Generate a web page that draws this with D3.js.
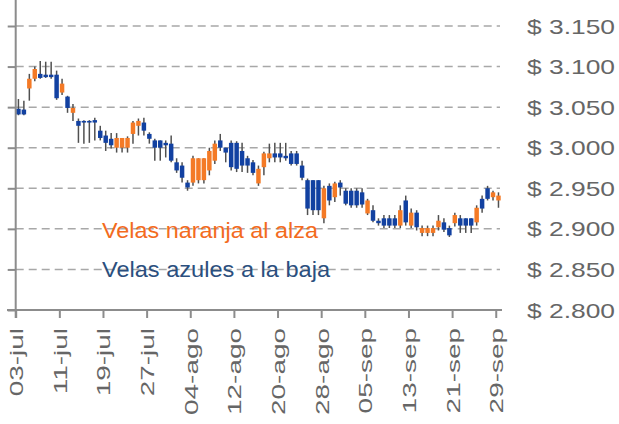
<!DOCTYPE html>
<html>
<head>
<meta charset="utf-8">
<script src="https://cdn.jsdelivr.net/npm/d3@7"></script>
<style>
html,body{margin:0;padding:0;background:#fff;}
svg{display:block;}
text{font-family:"Liberation Sans",Arial,sans-serif;}
</style>
</head>
<body>
<svg id="chart" width="619" height="424"></svg>
<script>
const dates = [
"2017-07-03","2017-07-04","2017-07-05","2017-07-06","2017-07-07","2017-07-08","2017-07-09","2017-07-10","2017-07-11","2017-07-12",
"2017-07-13","2017-07-14","2017-07-15","2017-07-16","2017-07-17","2017-07-18","2017-07-19","2017-07-20","2017-07-21","2017-07-22",
"2017-07-23","2017-07-24","2017-07-25","2017-07-26","2017-07-27","2017-07-28","2017-07-29","2017-07-30","2017-07-31","2017-08-01",
"2017-08-02","2017-08-03","2017-08-04","2017-08-05","2017-08-06","2017-08-07","2017-08-08","2017-08-09","2017-08-10","2017-08-11",
"2017-08-12","2017-08-13","2017-08-14","2017-08-15","2017-08-16","2017-08-17","2017-08-18","2017-08-19","2017-08-20","2017-08-21",
"2017-08-22","2017-08-23","2017-08-24","2017-08-25","2017-08-26","2017-08-27","2017-08-28","2017-08-29","2017-08-30","2017-08-31",
"2017-09-01","2017-09-02","2017-09-03","2017-09-04","2017-09-05","2017-09-06","2017-09-07","2017-09-08","2017-09-09","2017-09-10",
"2017-09-11","2017-09-12","2017-09-13","2017-09-14","2017-09-15","2017-09-16","2017-09-17","2017-09-18","2017-09-19","2017-09-20",
"2017-09-21","2017-09-22","2017-09-23","2017-09-24","2017-09-25","2017-09-26","2017-09-27","2017-09-28","2017-09-29"];

const open = [3048,3047,3073,3085,3091,3090,3090,3090,3068,3063,
3043,3033,3033,3033,3034,3021,3015,3011,3000,3000,
3000,3017,3027,3031,3017,3009,3009,3006,3005,2982,
2978,2957,2957,2960,2960,2972,2984,3009,3000,3006,
3006,2996,2987,2982,2956,2976,2987,2993,2993,2990,
2993,2993,2978,2960,2960,2960,2913,2953,2939,2957,
2947,2947,2947,2945,2919,2923,2910,2913,2913,2913,
2904,2935,2904,2920,2895,2895,2895,2902,2908,2901,
2907,2913,2913,2913,2908,2937,2950,2939,2935];

const high = [3060,3058,3091,3100,3107,3106,3106,3095,3085,3064,
3054,3036,3034,3034,3037,3027,3021,3018,3018,3012,
3014,3033,3036,3037,3019,3011,3009,3009,3015,2987,
2982,2960,2990,2987,2987,3000,3009,3017,3000,3009,
3008,3006,2990,2985,2978,2995,3005,3006,3006,3006,
2996,2996,2984,2962,2960,2960,2953,2956,2958,2960,
2950,2950,2950,2950,2937,2929,2913,2917,2917,2917,
2929,2941,2925,2923,2904,2904,2904,2917,2913,2904,
2920,2917,2913,2913,2929,2941,2953,2947,2945];

const low = [3040,3040,3058,3082,3085,3086,3085,3059,3065,3043,
3033,3006,3005,3006,3009,3009,2996,2999,2994,2994,
2994,3005,3015,3015,3005,2984,2984,2988,2982,2969,
2957,2947,2953,2956,2956,2966,2980,2996,2982,2972,
2970,2970,2969,2966,2953,2966,2982,2982,2982,2984,
2978,2978,2960,2917,2917,2917,2907,2929,2933,2941,
2929,2926,2926,2926,2917,2908,2904,2901,2901,2901,
2901,2904,2901,2898,2891,2891,2891,2898,2896,2890,
2903,2895,2895,2895,2904,2920,2935,2935,2926];

const close = [3041,3041,3085,3097,3086,3087,3087,3061,3079,3049,
3049,3027,3031,3031,3031,3012,3006,3003,3012,3012,
3012,3031,3033,3021,3011,3000,3000,3003,2984,2972,
2963,2951,2987,2987,2987,2996,3005,3000,2994,2976,
2974,2978,2978,2969,2974,2993,2993,2988,2988,2987,
2980,2980,2963,2925,2923,2923,2950,2935,2956,2951,
2931,2929,2929,2930,2935,2910,2907,2904,2904,2904,
2923,2908,2920,2902,2901,2901,2901,2910,2899,2892,
2917,2904,2904,2904,2926,2925,2937,2945,2941];

const tickDates = ["2017-07-03","2017-07-11","2017-07-19","2017-07-27","2017-08-04","2017-08-12",
"2017-08-20","2017-08-28","2017-09-05","2017-09-13","2017-09-21","2017-09-29"];
const tickLabels = ["03-jul","11-jul","19-jul","27-jul","04-ago","12-ago","20-ago","28-ago","05-sep","13-sep","21-sep","29-sep"];
const yTicks = [2800,2850,2900,2950,3000,3050,3100,3150];
const yTickLabels = ["$ 2.800","$ 2.850","$ 2.900","$ 2.950","$ 3.000","$ 3.050","$ 3.100","$ 3.150"];
const legendLabels = ["Velas naranja al alza","Velas azules a la baja"];

const parse = d3.utcParse("%Y-%m-%d");
const upColor = "#F47A26", downColor = "#1241A1";
const svg = d3.select("#chart");

const x = d3.scaleUtc().domain([parse("2017-07-03"), parse("2017-09-30")]).range([15.7, 501.2]);
const y = d3.scaleLinear().domain([2800, 3150]).range([310, 26]);

const candles = dates.map((d,i)=>({date: parse(d), o: open[i], h: high[i], l: low[i], c: close[i]}));
const dayW = x(parse("2017-07-04")) - x(parse("2017-07-03"));
const bodyW = dayW * 0.82;
const cx = d => x(d.date) + dayW/2;

// gridlines
svg.append("g").selectAll("line").data(yTicks.filter(v=>v>2800)).join("line")
  .attr("x1", 15.7).attr("x2", 500).attr("y1", d=>y(d)).attr("y2", d=>y(d))
  .attr("stroke", "#a8a8a8").attr("stroke-width", 1.5).attr("stroke-dasharray", "8,5");

// legend texts
const leg = svg.append("g");
leg.append("text").attr("x", 102).attr("y", 237.5).attr("font-size", 21.5)
  .attr("fill", "#F36B1E").attr("textLength", 216).attr("lengthAdjust", "spacingAndGlyphs")
  .text(legendLabels[0]);
leg.append("text").attr("x", 102).attr("y", 277).attr("font-size", 21.5)
  .attr("fill", "#2B4F7E").attr("textLength", 228).attr("lengthAdjust", "spacingAndGlyphs")
  .text(legendLabels[1]);

// wicks
svg.append("g").selectAll("line").data(candles).join("line")
  .attr("x1", cx).attr("x2", cx).attr("y1", d=>y(d.h)).attr("y2", d=>y(d.l))
  .attr("stroke", "#505050").attr("stroke-width", 1.5);

// bodies
svg.append("g").selectAll("rect").data(candles).join("rect")
  .attr("x", d=>cx(d)-bodyW/2).attr("width", bodyW)
  .attr("y", d=>y(Math.max(d.o,d.c)))
  .attr("height", d=>Math.max(1.5, Math.abs(y(d.o)-y(d.c))))
  .attr("fill", d=> d.c >= d.o ? upColor : downColor);

// y axis (left, no labels)
const yAxis = d3.axisLeft(y).tickValues(yTicks).tickSize(8).tickSizeOuter(0).tickFormat("");
const gy = svg.append("g").attr("transform", "translate(15.7,0)").call(yAxis);
gy.select(".domain").remove();
gy.selectAll(".tick line").attr("stroke", "#8c8c8c").attr("stroke-width", 2);
svg.append("line").attr("x1", 15.7).attr("x2", 15.7).attr("y1", 0).attr("y2", 318)
  .attr("stroke", "#8c8c8c").attr("stroke-width", 2);

// y labels on the right
svg.append("g").selectAll("text").data(yTicks).join("text")
  .attr("x", 527).attr("y", d=>y(d)).attr("dy", "0.36em")
  .attr("font-size", 21).attr("fill", "#666666")
  .attr("textLength", 88).attr("lengthAdjust", "spacingAndGlyphs")
  .text((d,i)=>yTickLabels[i]);

// x axis
const xAxis = d3.axisBottom(x).tickValues(tickDates.map(parse)).tickSize(8).tickSizeOuter(0)
  .tickFormat((d,i)=>tickLabels[i]);
const gx = svg.append("g").attr("transform", "translate(0,310)").call(xAxis);
gx.select(".domain").remove();
gx.selectAll(".tick line").attr("stroke", "#8c8c8c").attr("stroke-width", 2);
svg.append("line").attr("x1", 7).attr("x2", 502).attr("y1", 310).attr("y2", 310)
  .attr("stroke", "#8c8c8c").attr("stroke-width", 2);
gx.selectAll(".tick text")
  .attr("font-size", 19).attr("fill", "#666666")
  .attr("text-anchor", "end").attr("dy", null)
  .attr("transform", "rotate(-90)")
  .attr("x", -18).attr("y", 7)
  .each(function(){
    const L = this.getComputedTextLength();
    d3.select(this).attr("textLength", L*1.47).attr("lengthAdjust", "spacingAndGlyphs");
  });
gx.attr("font-family", null).attr("font-size", null);
gy.attr("font-family", null);
</script>
</body>
</html>
